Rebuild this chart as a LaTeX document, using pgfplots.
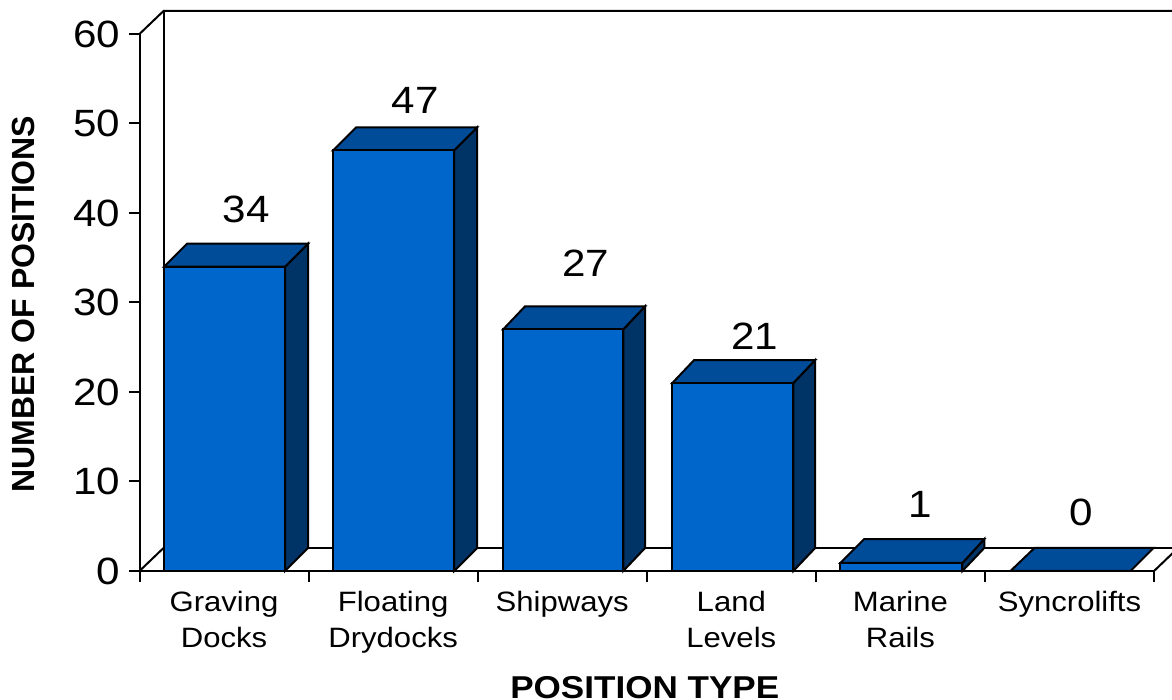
\documentclass[border=0pt]{standalone}
\usepackage{pgfplots}
\pgfplotsset{compat=1.18}
\usepackage{fontspec}
\setmainfont[FakeStretch=1.11]{Liberation Sans}
\newfontfamily\plainbold{Liberation Sans}
\definecolor{front}{HTML}{0066CC}
\definecolor{topc}{HTML}{004C99}
\definecolor{sidec}{HTML}{003366}
\pgfplotsset{
  wall/.style={black,line width=1.5pt,line join=miter,no markers},
  facef/.style={draw=black,fill=front,line width=1.5pt,line join=miter,no markers},
  facet/.style={draw=black,fill=topc,line width=1.5pt,line join=miter,no markers},
  faces/.style={draw=black,fill=sidec,line width=1.5pt,line join=miter,no markers},
}
\begin{document}
\begin{tikzpicture}
\path[use as bounding box] (0pt,0pt) rectangle (879pt,525pt);
\begin{axis}[
  at={(104.625pt,96.75pt)},anchor=south west,
  scale only axis,width=760.9pt,height=402.75pt,
  xmin=0,xmax=6,ymin=0,ymax=60,
  clip=false,
  axis x line=bottom,axis y line=left,
  axis line style={-,line width=1.5pt,black},
  major tick style={black,line width=1.5pt},
  tick align=outside,
  major tick length=8pt,
  xtick={0,1,2,3,4,5,6},
  x tick label as interval=true,
  xticklabels={{Graving\\Docks},{Floating\\Drydocks},{Shipways},{Land\\Levels},{Marine\\Rails},{Syncrolifts}},
  xticklabel style={align=center,font=\fontsize{21}{27}\selectfont,anchor=north,yshift=-3.75pt},
  ytick={0,10,20,30,40,50,60},
  yticklabel style={font=\fontsize{28.5}{32}\selectfont,/pgf/number format/assume math mode=true,xshift=-2.75pt},
  xlabel={POSITION TYPE},
  ylabel={NUMBER OF POSITIONS},
  every axis x label/.style={at={(rel axis cs:0.498,-0.2175)},anchor=center,font=\fontsize{23.7}{28}\selectfont\bfseries},
  every axis y label/.style={at={(rel axis cs:-0.1148,0.497)},rotate=90,anchor=center,font=\fontsize{24}{28}\selectfont\plainbold\bfseries},
]
% walls and floor
\addplot[wall] coordinates {(0,60) (0.142,62.57) (6.2,62.57)};
\addplot[wall] coordinates {(0.142,62.57) (0.142,2.57) (6.2,2.57)};
\addplot[wall] coordinates {(0,0) (0.142,2.57)};
\addplot[wall] coordinates {(6,0) (6.142,2.57)};
% Graving Docks, 34
\addplot[faces] coordinates {(0.861,0) (0.997,2.57) (0.997,36.57) (0.861,34)} --cycle;
\addplot[facet] coordinates {(0.145,34) (0.281,36.57) (0.997,36.57) (0.861,34)} --cycle;
\addplot[facef] coordinates {(0.145,0) (0.145,34) (0.861,34) (0.861,0)} --cycle;
% Floating Drydocks, 47
\addplot[faces] coordinates {(1.861,0) (1.997,2.57) (1.997,49.57) (1.861,47)} --cycle;
\addplot[facet] coordinates {(1.145,47) (1.281,49.57) (1.997,49.57) (1.861,47)} --cycle;
\addplot[facef] coordinates {(1.145,0) (1.145,47) (1.861,47) (1.861,0)} --cycle;
% Shipways, 27
\addplot[faces] coordinates {(2.861,0) (2.990,2.57) (2.990,29.57) (2.861,27)} --cycle;
\addplot[facet] coordinates {(2.151,27) (2.280,29.57) (2.990,29.57) (2.861,27)} --cycle;
\addplot[facef] coordinates {(2.151,0) (2.151,27) (2.861,27) (2.861,0)} --cycle;
% Land Levels, 21
\addplot[faces] coordinates {(3.867,0) (3.996,2.57) (3.996,23.57) (3.867,21)} --cycle;
\addplot[facet] coordinates {(3.151,21) (3.280,23.57) (3.996,23.57) (3.867,21)} --cycle;
\addplot[facef] coordinates {(3.151,0) (3.151,21) (3.867,21) (3.867,0)} --cycle;
% Marine Rails, 1
\addplot[faces] coordinates {(4.867,0) (4.996,2.57) (4.996,3.57) (4.867,0.9)} --cycle;
\addplot[facet] coordinates {(4.145,0.9) (4.286,3.57) (4.996,3.57) (4.867,0.9)} --cycle;
\addplot[facef] coordinates {(4.145,0) (4.145,0.9) (4.867,0.9) (4.867,0)} --cycle;
% Syncrolifts, 0
\addplot[facet] coordinates {(5.151,0) (5.293,2.57) (5.997,2.57) (5.861,0)} --cycle;
\addplot[wall] coordinates {(0,0) (6,0)};
% value labels
\begin{scope}[every node/.style={font=\fontsize{28.5}{32}\selectfont,anchor=center}]
\node at (axis cs:0.63,40.4) {34};
\node at (axis cs:1.63,52.6) {47};
\node at (axis cs:2.64,34.4) {27};
\node at (axis cs:3.64,26.2) {21};
\node at (axis cs:4.62,7.4) {1};
\node at (axis cs:5.57,6.6) {0};
\end{scope}
\end{axis}
\end{tikzpicture}
\end{document}
